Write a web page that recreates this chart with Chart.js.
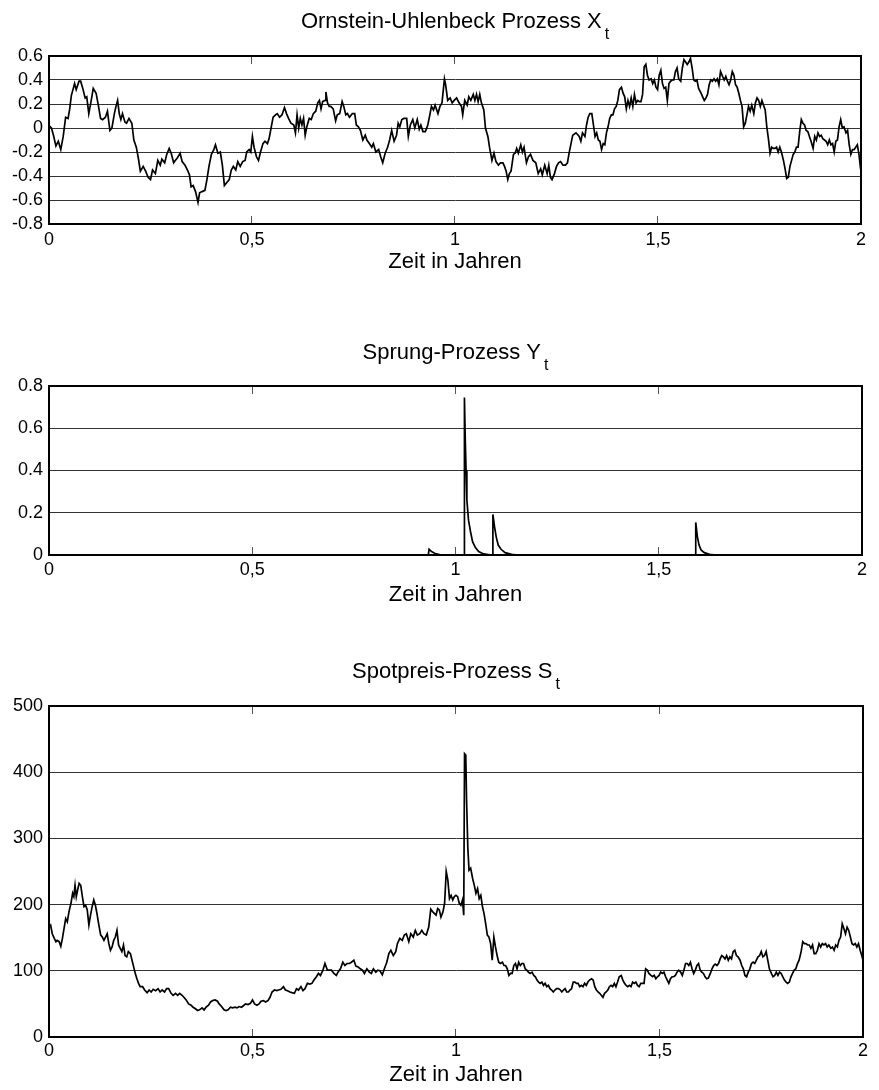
<!DOCTYPE html>
<html>
<head>
<meta charset="utf-8">
<script src="https://cdn.jsdelivr.net/npm/chart.js@4.4.1/dist/chart.umd.min.js"></script>
<style>
  body { margin: 0; background: #fff; width: 879px; height: 1090px; position: relative; overflow: hidden; }
  canvas { position: absolute; left: 0; }
</style>
</head>
<body>
<canvas id="c1" width="879" height="300" style="top:0px"></canvas>
<canvas id="c2" width="879" height="330" style="top:300px"></canvas>
<canvas id="c3" width="879" height="460" style="top:630px"></canvas>
<script>
// tick labels
const xTickLabels = ['0', '0,5', '1', '1,5', '2'];
const ouTicks = ['-0.8', '-0.6', '-0.4', '-0.2', '0', '0.2', '0.4', '0.6'];
const jumpTicks = ['0', '0.2', '0.4', '0.6', '0.8'];
const spotTicks = ['0', '100', '200', '300', '400', '500'];

// Ornstein-Uhlenbeck Prozess X_t  (Zeit in Jahren / Wert)
const ouT = [
  0, 0.006, 0.011, 0.017, 0.023, 0.029, 0.035, 0.041, 0.047, 0.051,
  0.055, 0.059, 0.063, 0.067, 0.074, 0.078, 0.084, 0.089, 0.093, 0.098,
  0.104, 0.109, 0.116, 0.122, 0.127, 0.132, 0.139, 0.144, 0.150, 0.155,
  0.161, 0.165, 0.169, 0.173, 0.177, 0.181, 0.187, 0.191, 0.197, 0.204,
  0.209, 0.215, 0.220, 0.225, 0.232, 0.238, 0.244, 0.250, 0.255, 0.262,
  0.268, 0.274, 0.278, 0.285, 0.290, 0.296, 0.301, 0.307, 0.311, 0.316,
  0.323, 0.328, 0.335, 0.341, 0.346, 0.350, 0.355, 0.361, 0.367, 0.371,
  0.377, 0.384, 0.389, 0.394, 0.400, 0.406, 0.410, 0.416, 0.422, 0.427,
  0.432, 0.439, 0.444, 0.449, 0.454, 0.460, 0.465, 0.471, 0.477, 0.483,
  0.487, 0.493, 0.497, 0.501, 0.505, 0.511, 0.516, 0.521, 0.527, 0.532,
  0.538, 0.542, 0.547, 0.552, 0.558, 0.562, 0.568, 0.574, 0.580, 0.585,
  0.590, 0.596, 0.603, 0.607,
  0.611, 0.615, 0.619, 0.623, 0.627, 0.631, 0.635, 0.641, 0.646, 0.651,
  0.657, 0.662, 0.666, 0.670, 0.674, 0.680, 0.682, 0.686, 0.690, 0.694,
  0.700, 0.706, 0.710, 0.716, 0.722, 0.726, 0.731, 0.735, 0.740, 0.747,
  0.753, 0.757, 0.762, 0.767, 0.773, 0.779, 0.783, 0.789, 0.795, 0.799,
  0.805, 0.812, 0.817, 0.822, 0.828, 0.834, 0.839, 0.844, 0.850, 0.856,
  0.860, 0.864, 0.869, 0.874, 0.881, 0.885, 0.890, 0.896, 0.901, 0.907,
  0.912, 0.916, 0.921, 0.927, 0.933, 0.938, 0.942, 0.947, 0.951, 0.958,
  0.963, 0.968, 0.974, 0.977, 0.982, 0.988, 0.993, 0.998, 1.004, 1.010,
  1.016, 1.019, 1.024, 1.030, 1.034, 1.039, 1.045, 1.049, 1.053, 1.057,
  1.061, 1.065, 1.071, 1.075, 1.081, 1.085, 1.091, 1.096, 1.101, 1.107,
  1.112, 1.118, 1.122, 1.126, 1.130, 1.134, 1.138, 1.144, 1.148, 1.152,
  1.156, 1.162, 1.166, 1.170, 1.176, 1.181, 1.186, 1.192, 1.199, 1.205,
  1.211, 1.215, 1.221, 1.227, 1.231, 1.235, 1.239, 1.245, 1.250, 1.255,
  1.260, 1.266, 1.272, 1.277, 1.281,
  1.290, 1.298, 1.306, 1.310, 1.314, 1.320, 1.324, 1.328, 1.332, 1.337,
  1.341, 1.345, 1.349, 1.353, 1.357, 1.361, 1.365, 1.369, 1.373, 1.377,
  1.381, 1.385, 1.389, 1.393, 1.397, 1.401, 1.405, 1.410, 1.414, 1.418,
  1.422, 1.426, 1.430, 1.434, 1.438, 1.442, 1.446, 1.450, 1.454, 1.458,
  1.462, 1.466, 1.470, 1.474, 1.478, 1.483, 1.487, 1.491, 1.495, 1.499,
  1.503, 1.507, 1.511, 1.515, 1.519, 1.523, 1.527, 1.531, 1.535, 1.539,
  1.543, 1.547, 1.551, 1.556, 1.560, 1.564, 1.568, 1.572, 1.576, 1.580,
  1.584, 1.588, 1.592, 1.596, 1.600, 1.606, 1.610, 1.614, 1.618, 1.622,
  1.626, 1.630, 1.634, 1.638, 1.642, 1.646, 1.650, 1.654, 1.659, 1.663,
  1.667, 1.671, 1.675, 1.679, 1.683, 1.687, 1.691, 1.695, 1.699, 1.703,
  1.707, 1.711, 1.715, 1.719, 1.723, 1.727, 1.731, 1.736, 1.740, 1.744,
  1.748, 1.752, 1.756, 1.760, 1.764, 1.768, 1.772, 1.776, 1.780, 1.784,
  1.788, 1.792, 1.796, 1.800, 1.804, 1.809, 1.813, 1.817, 1.821, 1.825,
  1.829, 1.833, 1.837, 1.841, 1.845, 1.849, 1.853, 1.857, 1.861, 1.865,
  1.869, 1.873, 1.877, 1.882, 1.886, 1.890, 1.894, 1.898, 1.902, 1.906,
  1.910, 1.914, 1.918, 1.922, 1.926, 1.930, 1.934, 1.938, 1.942, 1.946,
  1.950, 1.954, 1.958, 1.963, 1.967, 1.971, 1.975, 1.979, 1.983, 1.987,
  1.991, 1.995, 1.999, 2.000
];
const ouX = [
  0.02, 0, -0.06, -0.15, -0.11, -0.18, -0.07, 0.09, 0.08, 0.16,
  0.27, 0.32, 0.37, 0.32, 0.39, 0.39, 0.32, 0.25, 0.26, 0.12,
  0.23, 0.33, 0.29, 0.18, 0.08, 0.07, 0.09, 0.14, -0.02, 0,
  0.12, 0.18, 0.23, 0.12, 0.07, 0.12, 0.05, 0.04, 0.08, 0.04,
  -0.1, -0.16, -0.25, -0.36, -0.32, -0.36, -0.41, -0.43, -0.35, -0.38,
  -0.27, -0.31, -0.26, -0.29, -0.22, -0.17, -0.21, -0.29, -0.27, -0.25,
  -0.21, -0.28, -0.31, -0.35, -0.39, -0.49, -0.48, -0.53, -0.62, -0.54,
  -0.53, -0.52, -0.43, -0.32, -0.22, -0.18, -0.14, -0.21, -0.2, -0.31,
  -0.48, -0.45, -0.43, -0.35, -0.32, -0.35, -0.28, -0.32, -0.28, -0.27,
  -0.2, -0.18, -0.2, -0.07, -0.16, -0.24, -0.27, -0.2, -0.13, -0.11,
  -0.13, -0.09, 0, 0.09, 0.11, 0.12, 0.09, 0.11, 0.17, 0.12,
  0.08, 0.04, 0.025, -0.04,
  0.11, 0, 0.08, 0.025, 0.08, -0.06, 0.01, 0.08, 0.07, 0.12,
  0.14, 0.21, 0.23, 0.16, 0.22, 0.23, 0.30, 0.21, 0.18, 0.18,
  0.16, 0.06, 0.11, 0.12, 0.22, 0.18, 0.11, 0.12, 0.09, 0.12,
  0.12, 0.025, 0.01, -0.02, -0.1, -0.06, -0.1, -0.13, -0.16, -0.13,
  -0.2, -0.18, -0.24, -0.29, -0.21, -0.16, -0.1, -0.02, -0.11, -0.06,
  0.04, 0.01, 0.07, 0.08, 0.08, -0.07, 0.025, 0.07, 0, 0.07,
  -0.01, 0.025, -0.03, -0.03, 0.025, 0.11, 0.18, 0.15, 0.19, 0.12,
  0.18, 0.21, 0.41, 0.36, 0.23, 0.25, 0.21, 0.23, 0.25, 0.21,
  0.18, 0.11, 0.23, 0.19, 0.26, 0.23, 0.28, 0.23, 0.28, 0.22,
  0.28, 0.21, 0.15, 0, -0.07, -0.16, -0.27, -0.21, -0.28, -0.31,
  -0.29, -0.29, -0.32, -0.36, -0.43, -0.38, -0.36, -0.22, -0.21, -0.17,
  -0.21, -0.14, -0.2, -0.16, -0.29, -0.24, -0.22, -0.27, -0.29, -0.38,
  -0.34, -0.39, -0.31, -0.38, -0.31, -0.41, -0.43, -0.38, -0.32, -0.29,
  -0.28, -0.31, -0.31, -0.29, -0.21,
  -0.06, -0.04, -0.07, -0.11, -0.04, -0.07, 0.025, 0.09, 0.12, 0.12,
  0.025, -0.07, -0.04, -0.1, -0.11, -0.18, -0.13, -0.14, -0.04, 0.01,
  0.08, 0.11, 0.11, 0.16, 0.18, 0.23, 0.32, 0.34, 0.29, 0.26,
  0.16, 0.23, 0.18, 0.25, 0.18, 0.28, 0.21, 0.23, 0.22, 0.22,
  0.28, 0.51, 0.53, 0.44, 0.4, 0.41, 0.37, 0.4, 0.34, 0.32,
  0.44, 0.48, 0.37, 0.33, 0.34, 0.23, 0.37, 0.39, 0.4, 0.4,
  0.47, 0.5, 0.41, 0.39, 0.5, 0.57, 0.55, 0.53, 0.55, 0.58,
  0.5, 0.4, 0.39, 0.4, 0.33, 0.29, 0.26, 0.23, 0.25, 0.28,
  0.36, 0.4, 0.39, 0.41, 0.39, 0.41, 0.36, 0.47, 0.43, 0.4,
  0.43, 0.39, 0.36, 0.4, 0.47, 0.44, 0.36, 0.34, 0.29, 0.23,
  0.18, 0.01, 0.04, 0.11, 0.18, 0.14, 0.19, 0.12, 0.21, 0.25,
  0.23, 0.18, 0.23, 0.19, 0.15, 0.01, -0.09, -0.21, -0.16, -0.17,
  -0.17, -0.16, -0.2, -0.16, -0.2, -0.27, -0.34, -0.42, -0.41, -0.32,
  -0.27, -0.22, -0.2, -0.16, -0.16, -0.03, 0.07, 0.04, 0.025, -0.02,
  -0.03, -0.07, -0.11, -0.17, -0.07, -0.1, -0.04, -0.07, -0.06, -0.09,
  -0.1, -0.11, -0.14, -0.1, -0.14, -0.13, -0.2, -0.11, -0.1, 0.01,
  0.07, 0, 0.01, -0.04, -0.02, -0.14, -0.22, -0.18, -0.18, -0.16,
  -0.14, -0.22, -0.34, -0.35
];

// Sprung-Prozess Y_t
const jumpT = [
  0, 0.933, 0.935, 0.942, 0.950, 0.963,
  1.021, 1.022, 1.024, 1.026, 1.028, 1.032, 1.037, 1.042, 1.049, 1.057, 1.069, 1.085,
  1.091, 1.092, 1.096, 1.100, 1.105, 1.112, 1.122, 1.138, 1.154,
  1.590, 1.591, 1.595, 1.599, 1.604, 1.612, 1.625, 1.641, 2.000
];
const jumpY = [
  0, 0, 0.027, 0.015, 0.007, 0.001,
  0, 0.746, 0.55, 0.40, 0.26, 0.165, 0.11, 0.063, 0.035, 0.016, 0.005, 0.001,
  0.001, 0.192, 0.134, 0.087, 0.047, 0.027, 0.011, 0.003, 0,
  0, 0.154, 0.087, 0.048, 0.024, 0.011, 0.003, 0, 0
];

// Spotpreis-Prozess S_t
const spotT = [
  0, 0.004, 0.008, 0.013, 0.017, 0.020, 0.025, 0.029, 0.033, 0.037,
  0.041, 0.045, 0.049, 0.054, 0.058, 0.061, 0.064, 0.067, 0.071, 0.074,
  0.078, 0.082, 0.086, 0.090, 0.094, 0.098, 0.102, 0.106, 0.110, 0.114,
  0.118, 0.122, 0.127, 0.131, 0.135, 0.139, 0.143, 0.147, 0.151, 0.155,
  0.159, 0.163, 0.167, 0.171, 0.175, 0.179, 0.183, 0.187, 0.191, 0.195,
  0.200, 0.204, 0.208, 0.212, 0.216, 0.220, 0.224, 0.230, 0.235, 0.241,
  0.246, 0.251, 0.256, 0.262, 0.268, 0.273, 0.278, 0.284, 0.289, 0.294,
  0.300, 0.305, 0.311, 0.316, 0.321, 0.327, 0.333, 0.337, 0.343, 0.349,
  0.354, 0.359, 0.365, 0.370, 0.376, 0.381, 0.386, 0.392, 0.397, 0.402,
  0.408, 0.414, 0.418, 0.424, 0.430, 0.435, 0.440, 0.446, 0.451, 0.457,
  0.462, 0.467, 0.473, 0.479, 0.483, 0.489, 0.495, 0.500, 0.505, 0.511,
  0.516, 0.521, 0.527, 0.532, 0.538, 0.543, 0.548, 0.554, 0.560, 0.564,
  0.570, 0.576, 0.581, 0.586, 0.592, 0.597, 0.603, 0.608, 0.613, 0.619,
  0.624, 0.629, 0.635, 0.641, 0.646, 0.651, 0.657, 0.662, 0.667, 0.673,
  0.678, 0.684, 0.689, 0.694, 0.700, 0.706, 0.710, 0.716, 0.722, 0.727,
  0.732, 0.738, 0.743, 0.749, 0.754, 0.759, 0.765, 0.770, 0.775, 0.781,
  0.787, 0.792, 0.797, 0.803, 0.808, 0.813, 0.819, 0.824, 0.830, 0.835,
  0.840, 0.846, 0.852, 0.856, 0.862, 0.868, 0.873, 0.878, 0.884, 0.889,
  0.895, 0.900, 0.905, 0.911, 0.916, 0.921, 0.927, 0.933, 0.938, 0.943,
  0.951, 0.955, 0.959, 0.963, 0.968, 0.972, 0.976, 0.980, 0.984, 0.988,
  0.992, 0.996, 1.000, 1.004, 1.008, 1.012, 1.016,
  1.019, 1.021, 1.024, 1.026, 1.029,
  1.032, 1.036, 1.041, 1.045, 1.049, 1.053, 1.057, 1.061, 1.065, 1.069,
  1.073, 1.077, 1.081, 1.085, 1.089, 1.093, 1.097, 1.101, 1.105, 1.109,
  1.114, 1.118, 1.122, 1.126, 1.130, 1.134, 1.138, 1.142, 1.146, 1.150,
  1.154, 1.158, 1.162, 1.166, 1.170, 1.174, 1.178, 1.182, 1.187, 1.191,
  1.195, 1.199, 1.203, 1.207, 1.211, 1.215, 1.219, 1.223, 1.227, 1.231,
  1.235, 1.239, 1.243, 1.247, 1.251, 1.255, 1.260, 1.264, 1.268, 1.272,
  1.276, 1.280, 1.284, 1.288, 1.292, 1.296, 1.300, 1.304, 1.308, 1.312,
  1.316, 1.320, 1.324, 1.328, 1.333, 1.337, 1.341, 1.345, 1.349, 1.353,
  1.357, 1.361, 1.365, 1.369, 1.373, 1.377, 1.381, 1.385, 1.389, 1.393,
  1.397, 1.401, 1.406, 1.410, 1.414, 1.418, 1.422, 1.426, 1.430, 1.434,
  1.438, 1.442, 1.446, 1.450, 1.454, 1.458, 1.462, 1.466, 1.470, 1.474,
  1.479, 1.483, 1.487, 1.491, 1.495, 1.499, 1.503, 1.507, 1.511, 1.515,
  1.519, 1.523, 1.527, 1.531, 1.535, 1.539, 1.543, 1.547, 1.552, 1.556,
  1.560, 1.564, 1.568, 1.572, 1.576, 1.580, 1.584, 1.588, 1.592, 1.596,
  1.600, 1.604, 1.608, 1.612, 1.616, 1.620, 1.625, 1.629, 1.633, 1.637,
  1.641, 1.645, 1.649, 1.653, 1.657, 1.661, 1.665, 1.669, 1.673, 1.677,
  1.681, 1.685, 1.689, 1.693, 1.698, 1.702, 1.706, 1.710, 1.714, 1.718,
  1.722, 1.726, 1.730, 1.734, 1.738, 1.742, 1.746, 1.750, 1.754, 1.758,
  1.762, 1.766, 1.770, 1.775, 1.779, 1.783, 1.787, 1.791, 1.795, 1.799,
  1.803, 1.807, 1.811, 1.815, 1.819, 1.823, 1.827, 1.831, 1.835, 1.839,
  1.843, 1.848, 1.852, 1.856, 1.860, 1.864, 1.868, 1.872, 1.876, 1.880,
  1.884, 1.888, 1.892, 1.896, 1.900, 1.904, 1.908, 1.912, 1.916, 1.921,
  1.925, 1.929, 1.933, 1.937, 1.941, 1.945, 1.949, 1.953, 1.957, 1.961,
  1.965, 1.969, 1.973, 1.977, 1.981, 1.985, 1.989, 1.993, 1.997, 2.000
];
const spotS = [
  166, 169, 156, 149, 144, 146, 144, 137, 149, 164,
  179, 174, 189, 202, 217, 212, 229, 212, 224, 232,
  229, 212, 197, 199, 192, 169, 184, 197, 207, 199,
  186, 171, 154, 151, 146, 151, 156, 141, 131, 136,
  146, 151, 161, 139, 134, 129, 139, 123, 121, 129,
  126, 116, 106, 96, 88, 81, 76, 76, 71, 67,
  71, 68, 72, 70, 73, 68, 71, 68, 73, 73,
  66, 63, 66, 63, 66, 63, 59, 56, 50, 48,
  45, 43, 40, 41, 44, 41, 45, 48, 53, 55,
  56, 54, 50, 46, 41, 40, 41, 45, 44, 45,
  44, 46, 45, 48, 50, 49, 51, 56, 50, 48,
  50, 54, 55, 53, 55, 60, 68, 71, 70, 71,
  72, 76, 71, 70, 68, 67, 66, 73, 71, 76,
  70, 73, 81, 80, 81, 86, 91, 96, 93, 101,
  111, 101, 101, 101, 96, 93, 98, 103, 113, 108,
  111, 111, 113, 116, 107, 106, 103, 101, 96, 103,
  98, 96, 103, 98, 101, 100, 94, 103, 113, 126,
  131, 123, 129, 141, 149, 146, 154, 156, 144, 156,
  151, 161, 154, 156, 161, 156, 154, 166, 193, 189,
  184, 194, 192, 181, 189, 202, 250, 237, 209, 214,
  207, 212, 214, 212, 202, 199, 207,
  184, 428, 426, 358, 287,
  252, 255, 239, 229, 217, 224, 209, 214, 197, 186,
  171, 154, 151, 141, 116, 151, 136, 123, 113, 111,
  113, 108, 108, 103, 93, 96, 96, 108, 111, 103,
  113, 108, 111, 111, 103, 101, 98, 96, 98, 93,
  91, 86, 83, 81, 83, 78, 81, 76, 78, 73,
  71, 68, 71, 73, 73, 72, 68, 71, 73, 68,
  68, 71, 73, 83, 83, 81, 81, 76, 78, 76,
  81, 78, 83, 86, 88, 86, 76, 71, 68, 66,
  63, 60, 66, 68, 71, 76, 78, 76, 81, 76,
  83, 91, 93, 86, 81, 78, 76, 78, 76, 83,
  81, 83, 78, 76, 81, 81, 81, 103, 101, 96,
  93, 91, 93, 88, 91, 93, 98, 96, 98, 91,
  86, 81, 88, 91, 91, 93, 98, 101, 98, 93,
  101, 111, 111, 108, 113, 103, 96, 101, 108, 111,
  101, 98, 96, 91, 88, 89, 96, 103, 108, 110,
  108, 111, 118, 123, 121, 118, 123, 116, 121, 118,
  129, 131, 123, 121, 116, 108, 103, 93, 91, 98,
  103, 111, 113, 111, 116, 121, 123, 129, 121, 123,
  129, 116, 103, 96, 91, 93, 98, 93, 98, 96,
  91, 86, 83, 81, 83, 91, 96, 101, 103, 111,
  116, 129, 144, 141, 141, 139, 139, 134, 139, 126,
  126, 131, 141, 136, 141, 139, 141, 136, 139, 134,
  136, 131, 139, 136, 146, 151, 171, 164, 156, 166,
  161, 151, 141, 139, 141, 136, 141, 131, 123, 116
];

const FONT = '"Liberation Sans", Arial, Helvetica, sans-serif';

// title with subscript (e.g. "X" + "t"), centred over the plot area
const subTitle = {
  id: 'subTitle',
  afterDraw(chart, args, o) {
    const { ctx, chartArea } = chart;
    ctx.save();
    ctx.fillStyle = '#000';
    ctx.textBaseline = 'alphabetic';
    ctx.textAlign = 'left';
    const mainFont = '22px ' + FONT;
    const subFont = '16px ' + FONT;
    ctx.font = mainFont;
    const w1 = ctx.measureText(o.main).width;
    ctx.font = subFont;
    const w2 = ctx.measureText(o.sub).width;
    const x0 = (chartArea.left + chartArea.right) / 2 - (w1 + 3 + w2) / 2;
    const y = chartArea.top - o.gap;
    ctx.font = mainFont;
    ctx.fillText(o.main, x0, y);
    ctx.font = subFont;
    ctx.fillText(o.sub, x0 + w1 + 3, y + 11);
    ctx.restore();
  }
};

const makeChart = function (id, o) {
  const points = o.t.map((t, i) => ({ x: t, y: o.v[i] }));
  return new Chart(document.getElementById(id), {
    type: 'line',
    data: {
      datasets: [{
        data: points,
        borderColor: '#000',
        borderWidth: 1.7,
        pointRadius: 0,
        tension: 0,
        fill: false
      }]
    },
    options: {
      responsive: false,
      animation: false,
      events: [],
      layout: { padding: { top: o.top, right: o.right, left: 0, bottom: 0 } },
      plugins: {
        legend: { display: false },
        tooltip: { enabled: false },
        subTitle: { main: o.main, sub: o.sub, gap: o.gap }
      },
      scales: {
        x: {
          type: 'linear', min: 0, max: 2,
          afterFit: (s) => { s.height = o.xh; },
          ticks: {
            stepSize: 0.5, padding: o.tickPad, color: '#000', maxRotation: 0, autoSkip: false,
            font: { family: FONT, size: 18 },
            callback: (v, i) => xTickLabels[i]
          },
          grid: { drawOnChartArea: false, drawTicks: true, tickLength: -8, color: '#555', lineWidth: 1 },
          border: { display: true, color: '#000', width: 2 },
          title: {
            display: true, text: 'Zeit in Jahren', color: '#000',
            font: { family: FONT, size: 22 },
            padding: { top: 0, bottom: o.titlePad }
          }
        },
        x2: {
          type: 'linear', position: 'top', min: 0, max: 2,
          afterFit: (s) => { s.height = 0; },
          ticks: { display: false, stepSize: 0.5 },
          grid: { drawOnChartArea: false, drawTicks: true, tickLength: -8, color: '#555', lineWidth: 1 },
          border: { display: true, color: '#000', width: 2 }
        },
        y: {
          min: o.ymin, max: o.ymax,
          afterFit: (s) => { s.width = 49; },
          ticks: {
            stepSize: o.ystep, padding: 6, color: '#000', autoSkip: false,
            font: { family: FONT, size: 18 },
            callback: (v, i) => o.yTicks[i]
          },
          grid: { drawTicks: false, color: '#333', lineWidth: 1 },
          border: { display: true, color: '#000', width: 2 }
        },
        y2: {
          position: 'right', min: o.ymin, max: o.ymax,
          afterFit: (s) => { s.width = 0; },
          ticks: { display: false, stepSize: o.ystep },
          grid: { drawOnChartArea: false, drawTicks: false },
          border: { display: true, color: '#000', width: 2 }
        }
      }
    },
    plugins: [subTitle]
  });
};

const init = function () {
  makeChart('c1', {
    t: ouT, v: ouX, ymin: -0.8, ymax: 0.6, ystep: 0.2, yTicks: ouTicks,
    main: 'Ornstein-Uhlenbeck Prozess X', sub: 't',
    top: 56, right: 8, xh: 76, tickPad: 13, titlePad: 25, gap: 28.5
  });
  makeChart('c2', {
    t: jumpT, v: jumpY, ymin: 0, ymax: 0.8, ystep: 0.2, yTicks: jumpTicks,
    main: 'Sprung-Prozess Y', sub: 't',
    top: 86, right: 8, xh: 75, tickPad: 12, titlePad: 22, gap: 27
  });
  makeChart('c3', {
    t: spotT, v: spotS, ymin: 0, ymax: 500, ystep: 100, yTicks: spotTicks,
    main: 'Spotpreis-Prozess S', sub: 't',
    top: 76, right: 7, xh: 53, tickPad: 11, titlePad: 2, gap: 28
  });
};

document.addEventListener('DOMContentLoaded', init);
</script>
</body>
</html>
